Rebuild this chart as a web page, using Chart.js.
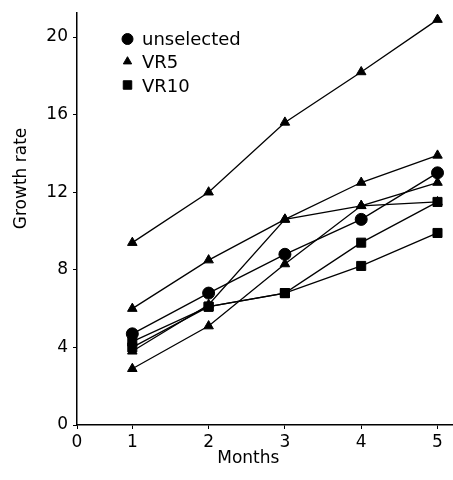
<!DOCTYPE html>
<html>
<head>
<meta charset="utf-8">
<script src="https://cdn.jsdelivr.net/npm/chart.js@4/dist/chart.umd.min.js"></script>
<style>
  html, body { margin: 0; padding: 0; background: #fff; }
  canvas { display: block; }
</style>
</head>
<body>
<canvas id="growth" width="453" height="480"></canvas>
<script>
// months on the x axis, growth rate per line
const months = [1, 2, 3, 4, 5];
const unselected = [4.7, 6.8, 8.8, 10.6, 13.0];
const vr5A = [9.4, 12.0, 15.6, 18.2, 20.9];
const vr5B = [6.0, 8.5, 10.6, 12.5, 13.9];
const vr5C = [3.8, 6.2, 10.6, 11.3, 11.5];
const vr5D = [2.9, 5.1, 8.3, 11.3, 12.5];
const vr10A = [4.3, 6.1, 6.8, 9.4, 11.5];
const vr10B = [4.0, 6.1, 6.8, 8.2, 9.9];
const xTicks = [1, 2, 3, 4, 5];
const yTicks = [0, 4, 8, 12, 16, 20];
const legendNames = ['unselected', 'VR5', 'VR10'];

// axis starts a bit before month 1, the corner is labelled 0
const X_MIN = 0.275;
const X_MAX = 5.19;
const Y_MAX = 21.24;

const FONT = 'DejaVu Sans';
const nb = n => '\u00a0'.repeat(n);

function series(values, style, radius) {
  return {
    data: months.map((m, i) => ({ x: m, y: values[i] })),
    borderColor: '#000',
    borderWidth: 1.3,
    backgroundColor: '#000',
    pointStyle: style,
    pointRadius: radius,
    pointBorderWidth: 1,
    pointBackgroundColor: '#000',
    pointBorderColor: '#000',
    tension: 0,
    fill: false,
    clip: false
  };
}

// small marker legend inside the plot, top left
const markerLegend = {
  id: 'markerLegend',
  afterDraw(chart) {
    const ctx = chart.ctx;
    const marks = [
      { pointStyle: 'circle', radius: 5.5, y: 39 },
      { pointStyle: 'triangle', radius: 4.8, y: 61.5 },
      { pointStyle: 'rect', radius: 6, y: 85 }
    ];
    const baselines = [45, 68, 92];
    ctx.save();
    ctx.fillStyle = '#000';
    ctx.strokeStyle = '#000';
    ctx.lineWidth = 1;
    ctx.font = '18px "' + FONT + '"';
    ctx.textBaseline = 'alphabetic';
    legendNames.forEach((name, i) => {
      const m = marks[i];
      Chart.helpers.drawPoint(ctx, { pointStyle: m.pointStyle, radius: m.radius, borderWidth: 1, rotation: 0 }, 127.5, m.y);
      ctx.fillText(name, 142, baselines[i]);
    });
    ctx.restore();
  }
};

// fixed box sizes, no extra room for overhanging tick labels
function fixBox(size) {
  return s => {
    if (s.isHorizontal()) s.height = size; else s.width = size;
    s.paddingLeft = s.paddingRight = s.paddingTop = s.paddingBottom = 0;
  };
}

const axisCommon = {
  grid: { display: true, drawOnChartArea: false, drawTicks: true, tickLength: 4, color: '#000', lineWidth: 1 },
  border: { display: true, color: '#000', width: 1.5 }
};

new Chart(document.getElementById('growth'), {
  type: 'line',
  data: {
    datasets: [
      series(unselected, 'circle', 6),
      series(vr10A, 'rect', 6.4),
      series(vr10B, 'rect', 6.4),
      series(vr5A, 'triangle', 5.5),
      series(vr5B, 'triangle', 5.5),
      series(vr5C, 'triangle', 5.5),
      series(vr5D, 'triangle', 5.5)
    ]
  },
  options: {
    responsive: false,
    animation: false,
    devicePixelRatio: 1,
    layout: { autoPadding: false, padding: { top: 13, right: 1, left: 0, bottom: 0 } },
    plugins: {
      legend: { display: false },
      tooltip: { enabled: false }
    },
    scales: {
      x: {
        type: 'linear',
        min: X_MIN,
        max: X_MAX,
        ...axisCommon,
        afterBuildTicks: s => { s.ticks = [X_MIN, ...xTicks].map(v => ({ value: v })); },
        afterFit: fixBox(55),
        ticks: {
          color: '#000',
          font: { family: FONT, size: 17 },
          padding: 3,
          maxRotation: 0,
          autoSkip: false,
          callback: v => (v === X_MIN ? '0' : String(v))
        },
        title: {
          display: true,
          text: 'Months' + nb(6),
          color: '#000',
          font: { family: FONT, size: 17 },
          padding: { top: 0, bottom: 11 }
        }
      },
      y: {
        type: 'linear',
        min: 0,
        max: Y_MAX,
        ...axisCommon,
        afterBuildTicks: s => { s.ticks = yTicks.map(v => ({ value: v })); },
        afterFit: fixBox(77),
        ticks: {
          color: '#000',
          font: { family: FONT, size: 17 },
          padding: 5,
          callback: v => String(v)
        },
        title: {
          display: true,
          text: nb(15) + 'Growth rate',
          color: '#000',
          font: { family: FONT, size: 17 },
          padding: { top: 11, bottom: 0 }
        }
      }
    }
  },
  plugins: [markerLegend]
});
</script>
</body>
</html>
